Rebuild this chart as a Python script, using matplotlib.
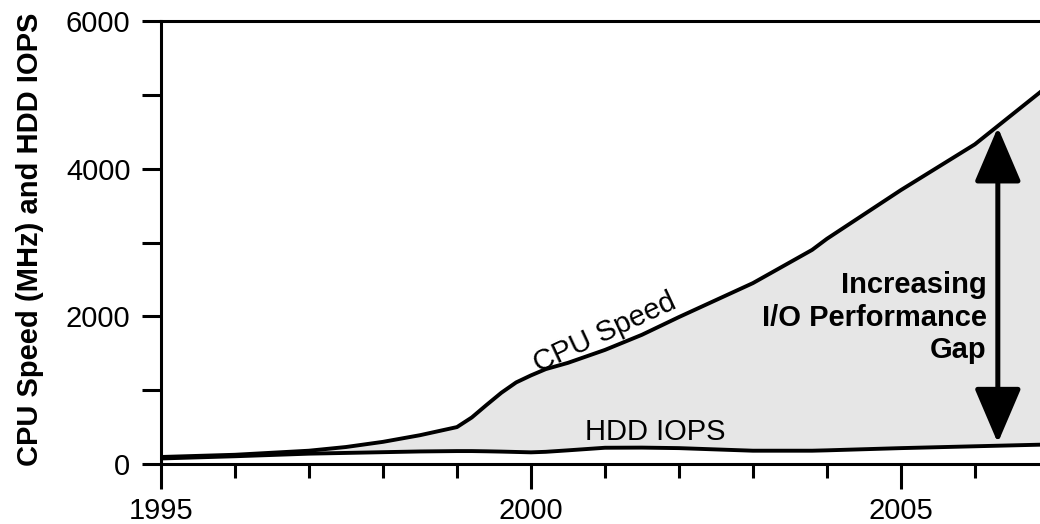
import matplotlib
matplotlib.use('Agg')
import matplotlib.pyplot as plt
from matplotlib.ticker import MultipleLocator
import numpy as np

plt.rcParams['font.family'] = ['Liberation Sans', 'DejaVu Sans']

# values
years = [1995, 1996, 1997, 1997.5, 1998, 1998.5, 1999, 1999.2, 1999.4, 1999.6,
         1999.8, 2000, 2000.2, 2000.5, 2001, 2001.5, 2002, 2003, 2003.8, 2004,
         2005, 2006, 2006.9]
cpu_mhz = [95, 125, 180, 230, 300, 390, 500, 630, 800, 965,
           1105, 1200, 1285, 1370, 1545, 1750, 1990, 2450, 2900, 3050,
           3710, 4330, 5050]
hdd_iops = [75, 105, 140, 150, 160, 170, 175, 175, 172, 168,
            163, 158, 165, 185, 220, 222, 215, 180, 180, 185,
            215, 240, 262]

x_labels = [1995, 2000, 2005]
y_labels = [0, 2000, 4000, 6000]

fig = plt.figure(figsize=(10.4, 5.24), dpi=100)
ax = fig.add_axes([161 / 1040, 60 / 524, 879 / 1040, 443 / 524])

# shaded gap between the two curves
ax.fill_between(years, hdd_iops, cpu_mhz, color='#e6e6e6', lw=0)
ax.plot(years, cpu_mhz, color='black', lw=2.8, solid_joinstyle='round')
ax.plot(years, hdd_iops, color='black', lw=2.8, solid_joinstyle='round')

ax.set_xlim(1995, 2006.88)
ax.set_ylim(0, 6000)

ax.set_xticks(x_labels)
ax.xaxis.set_minor_locator(MultipleLocator(1))
ax.set_yticks(y_labels)
ax.yaxis.set_minor_locator(MultipleLocator(1000))

ax.tick_params(axis='x', which='major', length=18, width=2.2, pad=6, labelsize=21)
ax.tick_params(axis='x', which='minor', length=10, width=2.2)
ax.tick_params(axis='y', which='both', length=14, width=2.2, pad=8, labelsize=21)

for side in ['left', 'bottom', 'top']:
    ax.spines[side].set_linewidth(2.2)
ax.spines['right'].set_visible(False)

# labels on the curves
ax.text(2001.0, 1775, 'CPU Speed', rotation=25, ha='center', va='center',
        fontsize=21, rotation_mode='anchor')
ax.text(2001.68, 434, 'HDD IOPS', ha='center', va='center', fontsize=21)
ax.text(2006.16, 1980, 'Increasing\nI/O Performance\nGap', ha='right', va='center',
        fontsize=21, fontweight='bold', linespacing=1.2, multialignment='right')

# double arrow spanning the gap
arrow_x = 2006.31
top = np.interp(arrow_x, years, cpu_mhz)
bot = np.interp(arrow_x, years, hdd_iops)
ax.annotate('', xy=(arrow_x, top), xytext=(arrow_x, bot),
            arrowprops=dict(arrowstyle='<|-|>,head_length=3.4,head_width=1.45',
                            mutation_scale=10, lw=3.6, color='black',
                            shrinkA=2, shrinkB=1))

fig.text(30 / 1040, 1 - 239 / 524, 'CPU Speed (MHz) and HDD IOPS', rotation=90,
         ha='center', va='center', fontsize=21, fontweight='bold')

fig.savefig('out.png', dpi=100)
